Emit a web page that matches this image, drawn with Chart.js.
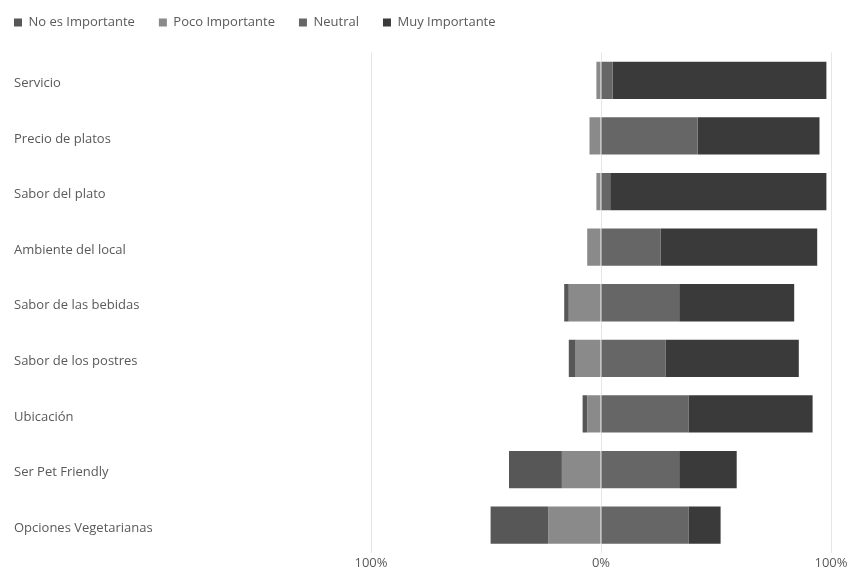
<!DOCTYPE html>
<html>
<head>
<meta charset="utf-8">
<script src="https://cdn.jsdelivr.net/npm/chart.js@4/dist/chart.umd.min.js"></script>
<style>
  html, body { margin: 0; padding: 0; background: #fff; }
  #wrap { width: 850px; height: 572px; position: relative; }
</style>
</head>
<body>
<div id="wrap"><canvas id="myChart"></canvas></div>
<script>
const categories = ['Servicio', 'Precio de platos', 'Sabor del plato', 'Ambiente del local',
  'Sabor de las bebidas', 'Sabor de los postres', 'Ubicación', 'Ser Pet Friendly', 'Opciones Vegetarianas'];
const seriesNames = ['No es Importante', 'Poco Importante', 'Neutral', 'Muy Importante'];

// porcentajes (los dos primeros se dibujan a la izquierda del 0)
const noEsImportante = [0, 0, 0, 0, 2, 3, 2, 23, 25];
const pocoImportante = [2, 5, 2, 6, 14, 11, 6, 17, 23];
const neutral = [5, 42, 4, 26, 34, 28, 38, 34, 38];
const muyImportante = [93, 53, 94, 68, 50, 58, 54, 25, 14];

const xTicks = [-100, 0, 100];

const textColor = '#595959';
Chart.defaults.font.family = '"Open Sans", sans-serif';
Chart.defaults.font.size = 13;
Chart.defaults.color = textColor;

// mueve la leyenda a la esquina y fija su alto
const legendNudge = {
  id: 'legendNudge',
  beforeInit(chart) {
    const fit = chart.legend.fit;
    chart.legend.fit = function () {
      fit.call(this);
      this.height = 52.5;
    };
  },
  afterLayout(chart) {
    const lg = chart.legend;
    const pad = lg.options.labels.padding;
    lg.left -= pad;
    lg.top = 16 - pad;
  }
};

// Poco va primero para quedar pegado al 0 en el lado negativo
const datasets = [
  { label: seriesNames[1], data: pocoImportante.map(v => -v), backgroundColor: '#8a8a8a' },
  { label: seriesNames[0], data: noEsImportante.map(v => -v), backgroundColor: '#575757' },
  { label: seriesNames[2], data: neutral, backgroundColor: '#666666' },
  { label: seriesNames[3], data: muyImportante, backgroundColor: '#3a3a3a' }
];

new Chart(document.getElementById('myChart'), {
  type: 'bar',
  data: { labels: categories, datasets: datasets },
  plugins: [legendNudge],
  options: {
    indexAxis: 'y',
    responsive: true,
    maintainAspectRatio: false,
    animation: false,
    categoryPercentage: 0.67,
    barPercentage: 1,
    layout: { padding: { left: 14, right: 19, top: 0, bottom: 0 } },
    plugins: {
      tooltip: { enabled: false },
      legend: {
        position: 'top',
        align: 'start',
        labels: {
          boxWidth: 8,
          boxHeight: 8,
          padding: 24,
          color: textColor,
          sort: (a, b) => seriesNames.indexOf(a.text) - seriesNames.indexOf(b.text)
        }
      }
    },
    scales: {
      x: {
        stacked: true,
        min: -100,
        max: 100,
        afterBuildTicks: (scale) => { scale.ticks = xTicks.map(v => ({ value: v })); },
        afterFit: (scale) => { scale.height = 19; },
        ticks: {
          padding: 2,
          callback: (v) => Math.abs(v) + '%'
        },
        grid: { color: '#e6e6e6', drawTicks: false },
        border: { display: false }
      },
      y: {
        stacked: true,
        afterFit: (scale) => { scale.width = 357; },
        ticks: { crossAlign: 'far', labelOffset: 3 },
        grid: { display: false },
        border: { display: false }
      }
    }
  }
});
</script>
</body>
</html>
